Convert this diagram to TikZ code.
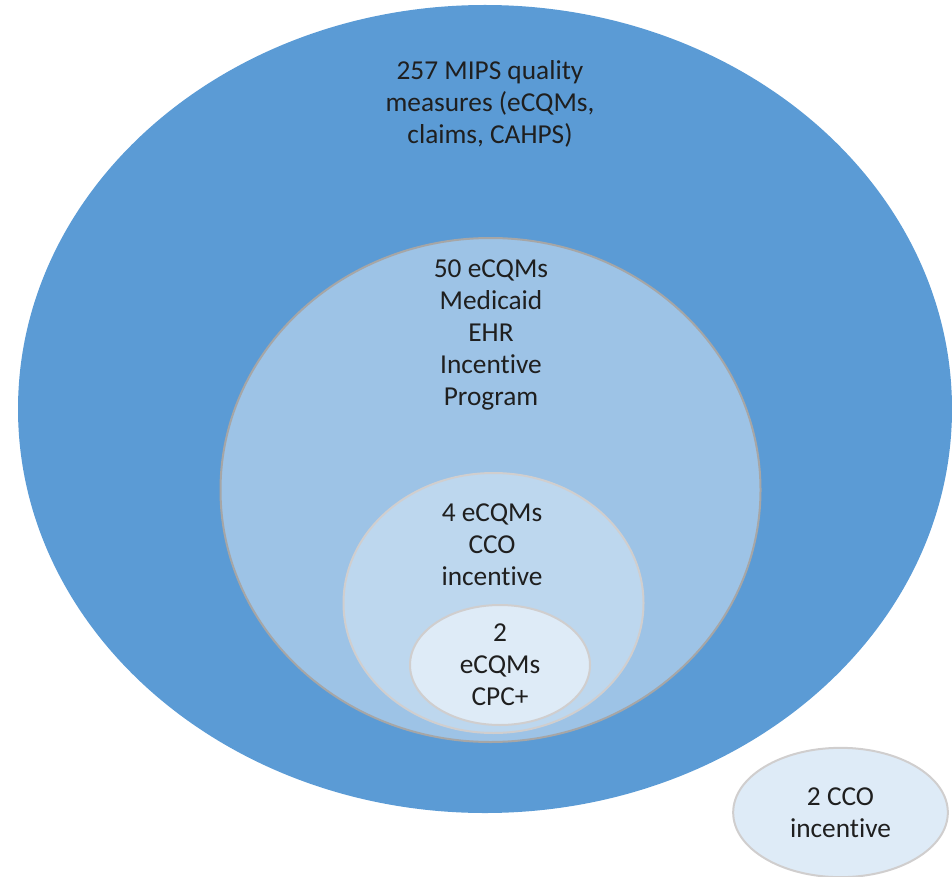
\documentclass[tikz,border=0pt]{standalone}
\usepackage{fontspec}
\setmainfont{Carlito}[Ligatures=NoCommon]
\usepackage{tikz}
\usetikzlibrary{shapes.geometric}
\definecolor{mipsblue}{HTML}{5B9BD5}
\definecolor{ehrblue}{HTML}{9DC3E6}
\definecolor{ccoblue}{HTML}{BDD7EE}
\definecolor{cpcblue}{HTML}{DEEBF7}
\definecolor{rimgray}{HTML}{A6A6A6}
\definecolor{rimlight}{HTML}{D0CECE}
\tikzset{
  setb/.style={ellipse, inner sep=0pt, align=center, text=black!88},
  mipsb/.style={setb, fill=mipsblue},
  ehrb/.style={setb, fill=ehrblue, draw=rimgray, line width=1.5pt},
  ccob/.style={setb, fill=ccoblue, draw=rimlight, line width=1.5pt},
  cpcb/.style={setb, fill=cpcblue, draw=rimlight, line width=1.5pt},
  setlab/.style={align=center, inner sep=0pt, text=black!88},
}

\begin{document}
\begin{tikzpicture}[x=0.75pt, y=-0.75pt, font=\fontsize{20.5}{24}\selectfont]
    \useasboundingbox (0,0) rectangle (952,877);
    \node[mipsb, minimum width=700.5pt, minimum height=606pt] (mips) at (485,409) {};
    \node[setlab] (mipslab) at (490,104)
      {257 MIPS quality\\measures (eCQMs,\\claims, CAHPS)};
    \node[ehrb, minimum width=405pt, minimum height=378pt] (ehr) at (490.5,490) {};
    \node[setlab] (ehrlab) at (491,335)
      {50 eCQMs\\Medicaid\\EHR\\Incentive\\Program};
    \node[ccob, minimum width=225pt, minimum height=195pt] (cco) at (493.5,603) {};
    \node[setlab] (ccolab) at (492,545) {4 eCQMs\\CCO\\incentive};
    \node[cpcb, minimum width=135pt, minimum height=90pt] (cpc) at (500,665)
      {2\\eCQMs\\CPC+};
    \node[cpcb, minimum width=161pt, minimum height=97pt] (cco2) at (840.5,812.5)
      {2 CCO\\incentive};
  \end{tikzpicture}
\end{document}
